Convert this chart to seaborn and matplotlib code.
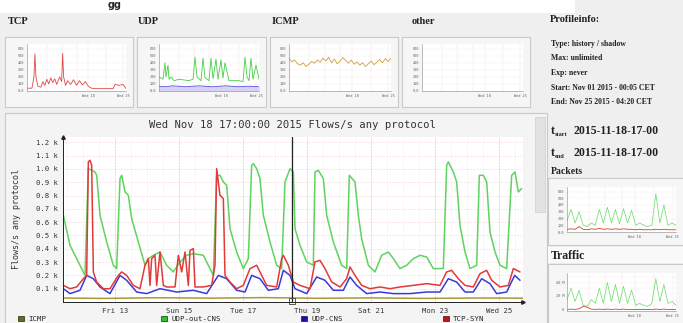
import matplotlib
matplotlib.use('Agg')
import numpy as np
import pandas as pd
import seaborn as sns
import matplotlib.pyplot as plt
from matplotlib.patches import Rectangle, Patch

W, H = 683, 323

# ---- main chart data (hours since Nov 11 00:00, flows/s) ----
udp_out_h = [9.25, 14.25, 21.75, 25.5, 28, 30.5, 33, 34.25, 36.75, 41.75, 46.75, 49.25, 51.75, 53, 55.5, 58,
             60.5, 65.5, 70.5, 73, 76.75, 81.75, 86.75, 91.75, 96.75, 101.75, 106.75, 114.25, 118, 121.75,
             124.25, 126.75, 129.25, 131.75, 134.25, 139.25, 144.25, 148, 150.5, 151.75, 154.25, 156.75,
             159.25, 164.25, 169.25, 173, 175.5, 179.25, 181.75, 183, 186.75, 191.75, 196.75, 198, 200.5,
             204.25, 206.75, 211.75, 218, 221.75, 223.75, 228, 230.5, 233, 238, 243, 248, 253, 256.75,
             261.75, 266.75, 271.75, 276.75, 281.75, 286.75, 294.25, 296.75, 298, 301.75, 304.25, 306.75,
             310.5, 314.25, 319.25, 321.25, 324.25, 326.75, 329.25, 333, 336.75, 341.75, 345.5, 348,
             350.5, 353]
udp_out_v = [652, 426, 276, 200, 1002, 990, 977, 952, 652, 451, 276, 251, 927, 952, 827, 802,
             627, 451, 276, 326, 351, 376, 276, 226, 301, 351, 363, 351, 276, 200,
             952, 952, 902, 877, 551, 376, 251, 326, 1027, 1040, 1002, 927,
             652, 451, 276, 251, 902, 1002, 977, 551, 426, 301, 276, 977, 990,
             927, 652, 451, 276, 251, 952, 902, 652, 476, 276, 226, 351, 376, 326,
             251, 276, 326, 351, 338, 251, 251, 1027, 1053, 977, 902, 576,
             376, 251, 276, 952, 952, 902, 526, 376, 276, 251, 952, 977,
             827, 852]

tcp_h = [9.25, 14.25, 19.25, 24.25, 26.75, 28, 29.25, 30.5, 31.75, 34.25, 39.25, 44.25, 50.5, 53, 56.75,
         61.75, 66.75, 70.5, 73, 74.25, 75.5, 78, 79.25, 81.75, 84.25, 86.75, 93, 95.5, 98, 100.5, 103,
         104.25, 106.75, 108, 114.25, 120.5, 123, 124.25, 126.75, 129.25, 130.5, 134.25, 139.25, 144.25,
         149.25, 154.25, 158, 161.75, 169.25, 173, 174.25, 178, 181.75, 186.75, 194.25, 198, 201.75,
         205.5, 210.5, 216.75, 221.75, 224.25, 228, 233, 239.25, 246.75, 254.25, 261.75, 271.75,
         281.75, 291.75, 296.75, 300.5, 305.5, 310.5, 316.75, 321.75, 326.75, 330.5, 336.75, 343,
         346.75, 351.75]
tcp_v = [125, 100, 113, 175, 200, 1053, 1065, 1027, 226, 150, 100, 100, 200, 226, 200,
         125, 100, 276, 326, 125, 326, 351, 125, 376, 125, 113, 113, 351, 226, 376, 125,
         388, 401, 113, 113, 125, 276, 1002, 802, 777, 200, 150, 100, 125,
         251, 276, 200, 125, 113, 326, 351, 276, 150, 125, 100, 301, 313,
         251, 150, 113, 175, 263, 200, 125, 100, 113, 100, 113, 125,
         138, 125, 226, 238, 175, 125, 113, 213, 238, 163, 113, 125,
         251, 226]

udp_h = [9.25, 14.25, 21.75, 26.75, 31.75, 36.75, 44.25, 51.75, 56.75, 64.25, 71.75, 81.75, 94.25, 106.75,
         116.75, 125.5, 131.75, 139.25, 145.5, 150.5, 156.75, 163, 170.5, 174.25, 179.25, 183, 191.75,
         199.25, 205.5, 211.75, 219.25, 224.25, 229.25, 236.75, 246.75, 256.75, 269.25, 281.75, 291.75,
         298, 304.25, 310.5, 316.75, 323, 329.25, 334.25, 341.75, 347.75, 351.75]
udp_v = [100, 63, 88, 200, 175, 113, 63, 200, 163, 75, 63, 100, 75, 88,
         63, 200, 175, 88, 75, 200, 175, 88, 100, 238, 200, 100, 63,
         188, 163, 88, 88, 188, 125, 63, 75, 63, 63, 75, 75,
         175, 150, 75, 75, 175, 138, 63, 75, 200, 163]

icmp_h = [9, 40, 80, 120, 160, 200, 240, 280, 320, 354]
icmp_v = [30, 27, 32, 29, 33, 28, 31, 27, 30, 29]

cursor_hour = 181
day_ticks = [48, 96, 144, 192, 240, 288, 336]
day_labels = ['Fri 13', 'Sun 15', 'Tue 17', 'Thu 19', 'Sat 21', 'Mon 23', 'Wed 25']

series_names = ['ICMP', 'UDP-out-CNS', 'UDP-CNS', 'TCP-SYN']
series_colors = ['#a89a3a', '#5fd35f', '#3a3ad8', '#e03a3a']
legend_colors = ['#6b6b10', '#22cc22', '#1010c0', '#d01010']

# ---- thumbnail data (relative height 0..1) ----
tcp_thumb_t = [0, 0.05, 0.07, 0.08, 0.09, 0.11, 0.14, 0.16, 0.18, 0.2, 0.22, 0.24, 0.26, 0.28, 0.3, 0.33,
               0.35, 0.36, 0.37, 0.39, 0.41, 0.44, 0.47, 0.5, 0.53, 0.56, 0.59, 0.62, 0.65, 0.7, 0.8, 0.87,
               0.89, 0.93, 0.97, 1.0]
tcp_thumb_v = [0.06, 0.06, 0.3, 0.79, 0.3, 0.1, 0.08, 0.2, 0.12, 0.25, 0.15, 0.28, 0.18, 0.26, 0.14, 0.3,
               0.2, 0.8, 0.3, 0.12, 0.22, 0.14, 0.24, 0.12, 0.22, 0.13, 0.2, 0.1, 0.06, 0.05, 0.05, 0.05,
               0.14, 0.12, 0.14, 0.05]
udp_thumb_t = [0, 0.04, 0.06, 0.07, 0.09, 0.1, 0.12, 0.15, 0.2, 0.3, 0.34, 0.36, 0.38, 0.42, 0.44, 0.46,
               0.5, 0.52, 0.54, 0.57, 0.59, 0.62, 0.64, 0.66, 0.7, 0.8, 0.84, 0.86, 0.88, 0.9, 0.92, 0.94,
               0.97, 1.0]
udp_thumb_v = [0.3, 0.25, 0.6, 0.3, 0.55, 0.25, 0.3, 0.22, 0.25, 0.22, 0.25, 0.72, 0.3, 0.22, 0.7, 0.28,
               0.22, 0.7, 0.26, 0.68, 0.25, 0.66, 0.28, 0.6, 0.22, 0.22, 0.2, 0.72, 0.3, 0.22, 0.7, 0.25,
               0.55, 0.25]
udp_thumb_blue = [0.1, 0.09, 0.11, 0.1, 0.09, 0.1, 0.11, 0.1, 0.09, 0.1, 0.11, 0.1, 0.09, 0.1, 0.1, 0.09]
icmp_thumb = [0.7, 0.62, 0.66, 0.58, 0.55, 0.6, 0.52, 0.57, 0.63, 0.59, 0.66, 0.61, 0.7, 0.64, 0.72, 0.6,
              0.68, 0.58, 0.63, 0.71, 0.65, 0.59, 0.66, 0.57, 0.62, 0.55, 0.6, 0.52, 0.58, 0.64, 0.56,
              0.61, 0.67, 0.6, 0.69, 0.63, 0.7]
pkt_thumb = [0.25, 0.5, 0.2, 0.45, 0.15, 0.12, 0.2, 0.15, 0.5, 0.2, 0.55, 0.2, 0.5, 0.18, 0.52, 0.2, 0.48,
             0.15, 0.2, 0.15, 0.12, 0.15, 0.85, 0.2, 0.6, 0.15, 0.2, 0.15]
pkt_thumb_red = [0.06, 0.07, 0.06, 0.12, 0.06, 0.05, 0.07, 0.06, 0.08, 0.06, 0.07, 0.06, 0.07, 0.06,
                 0.07, 0.06, 0.06, 0.05, 0.06, 0.05, 0.05, 0.05, 0.06, 0.05, 0.06, 0.05, 0.05, 0.05]
traffic_thumb = [0.3, 0.6, 0.25, 0.55, 0.15, 0.12, 0.3, 0.2, 0.6, 0.2, 0.75, 0.25, 0.7, 0.2, 0.65, 0.2,
                 0.55, 0.15, 0.2, 0.15, 0.12, 0.2, 0.85, 0.25, 0.7, 0.2, 0.25, 0.15]
traffic_thumb_red = [0.04, 0.05, 0.04, 0.06, 0.12, 0.1, 0.05, 0.04, 0.05, 0.04, 0.05, 0.04, 0.05, 0.04,
                     0.05, 0.04, 0.04, 0.04, 0.04, 0.04, 0.04, 0.04, 0.05, 0.04, 0.05, 0.04, 0.04, 0.04]

profile_lines = ['Type: history / shadow', 'Max: unlimited', 'Exp: never',
                 'Start: Nov 01 2015 - 00:05 CET', 'End: Nov 25 2015 - 04:20 CET']
t_value = '2015-11-18-17-00'

sns.set_theme(style='white')
plt.rcParams['font.family'] = ['DejaVu Sans Mono']
serif = ['Liberation Serif', 'DejaVu Serif']

fig = plt.figure(figsize=(W / 100, H / 100), dpi=100, facecolor='#efefef')


def box(x0, y0, x1, y1):
    return [x0 / W, 1 - y1 / H, (x1 - x0) / W, (y1 - y0) / H]


def rect(x0, y0, x1, y1, fc, ec='none', lw=0.8):
    fig.add_artist(Rectangle((x0 / W, 1 - y1 / H), (x1 - x0) / W, (y1 - y0) / H,
                             transform=fig.transFigure, fc=fc, ec=ec, lw=lw, zorder=0))


def ftext(x, y, s, **kw):
    fig.text(x / W, 1 - y / H, s, **kw)


# page top strip + text
rect(0, 0, 575, 13, 'white')
ftext(108, 5, 'gg', fontsize=7, fontweight='bold', family='DejaVu Sans', va='center')

# header labels
for x, name in zip([8, 138, 272, 412], ['TCP', 'UDP', 'ICMP', 'other']):
    ftext(x, 22, name, family=serif, fontweight='bold', fontsize=7.5, va='center', color='#222')


def thumb(ax, tick_labels=('Wed 18', 'Wed 25')):
    ax.set_facecolor('white')
    ax.set_xlim(0, 1)
    ax.set_ylim(0, 1)
    ax.set_xticks([0.62, 0.97])
    ax.set_xticklabels(tick_labels)
    ax.set_yticks([0.0, 0.15, 0.3, 0.45, 0.6, 0.75, 0.9])
    ax.set_yticklabels(['0.0', '100', '200', '300', '400', '500', '600'])
    ax.tick_params(labelsize=2.6, length=1, pad=1, colors='#666')
    for sp in ['top', 'right']:
        ax.spines[sp].set_visible(False)
    for sp in ['left', 'bottom']:
        ax.spines[sp].set_color('#888')
        ax.spines[sp].set_linewidth(0.4)
    for v in [0.15, 0.3, 0.45, 0.6, 0.75, 0.9]:
        ax.axhline(v, color='#e8c8c8', lw=0.3, ls=':')
    for v in [0.2, 0.35, 0.5, 0.62, 0.8, 0.97]:
        ax.axvline(v, color='#f0b0b0', lw=0.3, ls=':')


# thumbnail panels
panels = [(5, 133, 27), (137, 266, 159), (270, 398, 289), (402, 530, 422)]
thumb_axes = []
for x0, x1, px in panels:
    rect(x0, 37, x1, 107, '#f6f6f6', ec='#c9c9c9')
    ax = fig.add_axes(box(px, 44, x1 - 7, 91))
    thumb(ax)
    thumb_axes.append(ax)

sns.lineplot(x=tcp_thumb_t, y=tcp_thumb_v, ax=thumb_axes[0], color='#e04848', lw=0.6, sort=False)
sns.lineplot(x=udp_thumb_t, y=udp_thumb_v, ax=thumb_axes[1], color='#44d044', lw=0.6, sort=False)
sns.lineplot(x=np.linspace(0, 1, len(udp_thumb_blue)), y=udp_thumb_blue, ax=thumb_axes[1],
             color='#5050e0', lw=0.6)
thumb_axes[1].fill_between(np.linspace(0, 1, len(udp_thumb_blue)), 0, udp_thumb_blue,
                           color='#c8c0f0', alpha=0.7, lw=0)
sns.lineplot(x=np.linspace(0, 1, len(icmp_thumb)), y=icmp_thumb, ax=thumb_axes[2],
             color='#d0a040', lw=0.6)

# main chart panel
rect(5, 113, 547, 330, '#f4f4f4', ec='#c9c9c9')
rect(535, 117, 545, 212, '#e2e2e2', ec='#cfcfcf', lw=0.5)
ftext(292, 125, 'Wed Nov 18 17:00:00 2015 Flows/s any protocol', fontsize=7.6,
      ha='center', va='center', color='#333')
ftext(17, 219, 'Flows/s any protocol', fontsize=6, rotation=90, ha='center', va='center', color='#333')

main = pd.concat([
    pd.DataFrame({'hour': icmp_h, 'flows': icmp_v, 'series': 'ICMP'}),
    pd.DataFrame({'hour': udp_out_h, 'flows': udp_out_v, 'series': 'UDP-out-CNS'}),
    pd.DataFrame({'hour': udp_h, 'flows': udp_v, 'series': 'UDP-CNS'}),
    pd.DataFrame({'hour': tcp_h, 'flows': tcp_v, 'series': 'TCP-SYN'}),
])

ax = fig.add_axes(box(63, 137, 523, 302))
ax.set_facecolor('white')
sns.lineplot(data=main, x='hour', y='flows', hue='series', hue_order=series_names,
             palette=series_colors, estimator=None, sort=False, lw=1.1, legend=False, ax=ax)
ax.set_xlim(9, 354)
ax.set_ylim(0, 1240)
ax.set_xlabel('')
ax.set_ylabel('')
yt = list(range(100, 1300, 100))
ax.set_yticks(yt)
ax.set_yticklabels([f'{v / 1000:.1f} k' for v in yt])
ax.set_xticks(day_ticks)
ax.set_xticklabels(day_labels)
ax.tick_params(labelsize=5.2, length=2, pad=2, colors='#333')
for v in yt:
    ax.axhline(v, color='#f2b4b4', lw=0.4, ls=':', zorder=0)
for v in range(12, 354, 12):
    ax.axvline(v, color='#dddddd', lw=0.4, ls=':', zorder=0)
for v in day_ticks:
    ax.axvline(v, color='#f09090', lw=0.4, ls=':', zorder=0)
for sp in ['top', 'right']:
    ax.spines[sp].set_visible(False)
for sp in ['left', 'bottom']:
    ax.spines[sp].set_color('#222')
    ax.spines[sp].set_linewidth(0.7)
ax.plot(0, 1, '^', color='#222', ms=2.5, transform=ax.transAxes, clip_on=False)
ax.plot(1, 0, '>', color='#222', ms=2.5, transform=ax.transAxes, clip_on=False)
ax.axvline(cursor_hour, color='#222', lw=0.9)
ax.plot(cursor_hour, 8, 's', mfc='none', mec='#555', ms=4, mew=0.7, clip_on=False)

# legend: one entry per fixed column, like rrdtool
for x, c, l in zip([18, 161, 301, 443], legend_colors, series_names):
    fig.legend(handles=[Patch(fc=c, ec='black', lw=0.4, label=l)], loc='lower left',
               bbox_to_anchor=(x / W, 1 / H), frameon=False, fontsize=5.3, handlelength=0.8,
               handleheight=0.8, handletextpad=0.6, borderaxespad=0, borderpad=0)

# right column
ftext(550, 20, 'Profileinfo:', family=serif, fontweight='bold', fontsize=7.5, va='center', color='#222')
for i, line in enumerate(profile_lines):
    ftext(551, 44 + i * 14.5, line, family=serif, fontweight='bold', fontsize=5.6, va='center', color='#222')
for y, sub in [(131, 'start'), (153, 'end')]:
    ftext(551, y, 't', family=serif, fontweight='bold', fontsize=8.5, va='center', color='#222')
    ftext(555, y + 3, sub, family=serif, fontweight='bold', fontsize=4.5, va='center', color='#222')
    ftext(573, y, t_value, family=serif, fontweight='bold', fontsize=8.5, va='center', color='#222')
ftext(551, 171, 'Packets', family=serif, fontweight='bold', fontsize=7, va='center', color='#222')

rect(548, 178, 690, 245, '#f6f6f6', ec='#c9c9c9')
axp = fig.add_axes(box(567, 187, 676, 232))
thumb(axp)
sns.lineplot(x=np.linspace(0, 1, len(pkt_thumb)), y=pkt_thumb, ax=axp, color='#66dd66', lw=0.5)
sns.lineplot(x=np.linspace(0, 1, len(pkt_thumb_red)), y=pkt_thumb_red, ax=axp, color='#cc4422', lw=0.6)

rect(548, 247, 690, 263, '#f9f9f9')
ftext(551, 256, 'Traffic', family=serif, fontweight='bold', fontsize=8.5, va='center', color='#222')
rect(548, 264, 690, 330, '#f6f6f6', ec='#c9c9c9')
axt = fig.add_axes(box(567, 273, 676, 311))
thumb(axt)
axt.set_yticks([0.05, 0.4, 0.75])
axt.set_yticklabels(['0', '20 M', '40 M'])
sns.lineplot(x=np.linspace(0, 1, len(traffic_thumb)), y=traffic_thumb, ax=axt, color='#66dd66', lw=0.5)
sns.lineplot(x=np.linspace(0, 1, len(traffic_thumb_red)), y=traffic_thumb_red, ax=axt, color='#cc4422', lw=0.6)

fig.savefig('out.png', dpi=100, facecolor=fig.get_facecolor())
